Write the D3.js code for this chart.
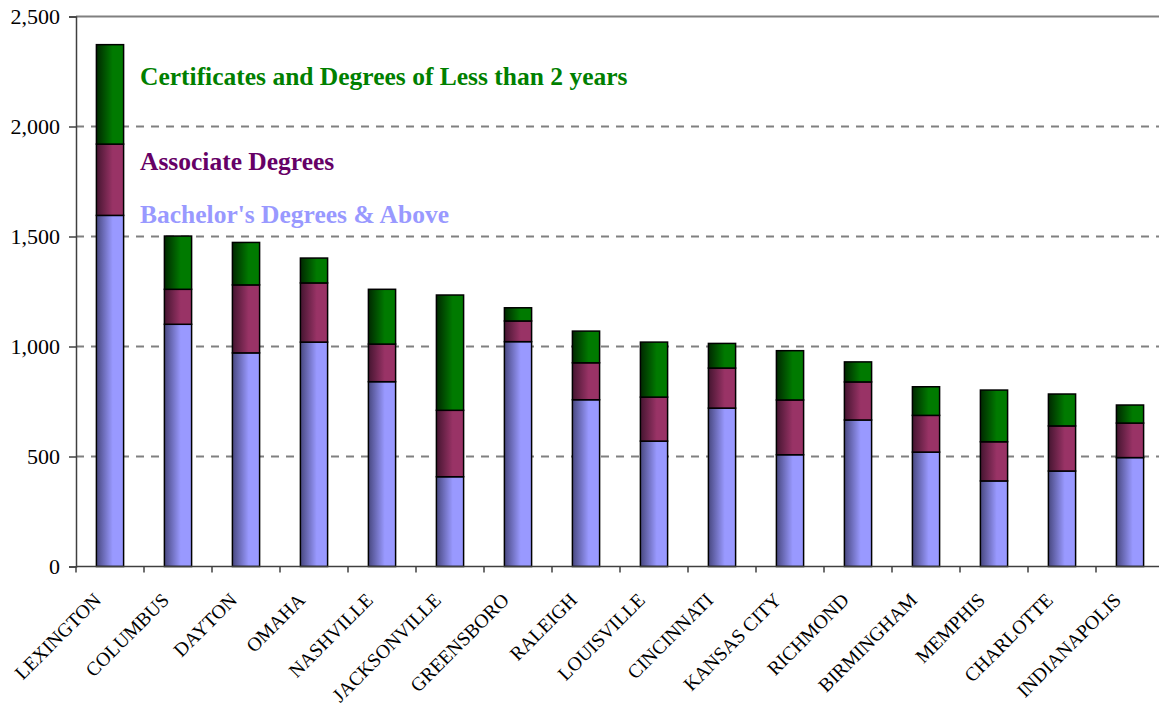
<!DOCTYPE html>
<html>
<head>
<meta charset="utf-8">
<script src="https://cdn.jsdelivr.net/npm/d3@7"></script>
<style>
  body { margin: 0; background: #fff; }
  svg text { font-family: "Liberation Serif", "Times New Roman", serif; }
</style>
</head>
<body>
<div class="chart"></div>
<script>
// city data
const cities = ["LEXINGTON", "COLUMBUS", "DAYTON", "OMAHA", "NASHVILLE", "JACKSONVILLE",
  "GREENSBORO", "RALEIGH", "LOUISVILLE", "CINCINNATI", "KANSAS CITY", "RICHMOND",
  "BIRMINGHAM", "MEMPHIS", "CHARLOTTE", "INDIANAPOLIS"];
const bachelors    = [1596, 1101, 971, 1020, 840, 408, 1022, 758, 570, 720, 508, 666, 520, 389, 434, 495];
const associates   = [324, 159, 309, 269, 171, 302, 94, 168, 200, 182, 249, 173, 167, 178, 205, 157];
const certificates = [452, 242, 193, 113, 249, 524, 60, 144, 250, 112, 224, 91, 130, 235, 145, 82];
const yTicks = [0, 500, 1000, 1500, 2000, 2500];

const seriesNames = ["Bachelor's Degrees & Above", "Associate Degrees", "Certificates and Degrees of Less than 2 years"];
const seriesKeys = ["bach", "assoc", "cert"];

const width = 1159, height = 707;
const margin = { top: 16.5, right: -5, bottom: 140.5, left: 76 };

const rows = cities.map(function(c, i) {
  return { city: c, bach: bachelors[i], assoc: associates[i], cert: certificates[i] };
});

const svg = d3.select(".chart").append("svg")
  .attr("width", width)
  .attr("height", height);

// gradients: dark on the left edge, full colour to the right
const fills = { bach: ["#484880", "#9999ff"], assoc: ["#451530", "#993366"], cert: ["#002800", "#007a00"] };
const defs = svg.append("defs");
seriesKeys.forEach(function(k) {
  const g = defs.append("linearGradient").attr("id", "grad-" + k)
    .attr("x1", "0%").attr("x2", "100%").attr("y1", "0%").attr("y2", "0%");
  g.append("stop").attr("offset", "0%").attr("stop-color", fills[k][0]);
  g.append("stop").attr("offset", "60%").attr("stop-color", fills[k][1]);
  g.append("stop").attr("offset", "100%").attr("stop-color", fills[k][1]);
});

const x = d3.scaleBand()
  .domain(cities)
  .range([margin.left, width - margin.right])
  .paddingInner(0.6)
  .paddingOuter(0.3);

// band edges for the tick marks
const step = (width - margin.right - margin.left) / cities.length;

const y = d3.scaleLinear()
  .domain([0, 2500])
  .range([height - margin.bottom, margin.top]);

// grid lines
svg.append("g")
  .selectAll("line")
  .data(yTicks.filter(function(d) { return d > 0; }))
  .enter()
  .append("line")
  .attr("x1", margin.left)
  .attr("x2", width)
  .attr("y1", function(d) { return y(d); })
  .attr("y2", function(d) { return y(d); })
  .attr("stroke", "#808080")
  .attr("stroke-width", 2)
  .attr("stroke-dasharray", function(d) { return d === 2500 ? null : "8,7"; });

// stacked bars
const stack = d3.stack().keys(seriesKeys);
const layers = stack(rows);

svg.append("g")
  .selectAll("g")
  .data(layers)
  .enter()
  .append("g")
  .attr("fill", function(d) { return "url(#grad-" + d.key + ")"; })
  .selectAll("rect")
  .data(function(d) { return d; })
  .enter()
  .append("rect")
  .attr("x", function(d) { return x(d.data.city); })
  .attr("y", function(d) { return y(d[1]); })
  .attr("width", x.bandwidth())
  .attr("height", function(d) { return y(d[0]) - y(d[1]); })
  .attr("stroke", "#000")
  .attr("stroke-width", 1.5);

// y axis
const yAxis = svg.append("g")
  .attr("transform", "translate(" + margin.left + ",0)")
  .call(d3.axisLeft(y).tickValues(yTicks).tickFormat(d3.format(",")).tickSize(7).tickPadding(9));
yAxis.selectAll("line").attr("stroke", "#404040").attr("stroke-width", 1.5);
yAxis.select(".domain").attr("stroke", "#404040").attr("stroke-width", 1.5);
yAxis.selectAll("text")
  .attr("font-size", "22px")
  .attr("font-family", "Liberation Serif, serif")
  .attr("fill", "#000");

// x axis line and ticks between categories
svg.append("line")
  .attr("x1", margin.left).attr("x2", width)
  .attr("y1", y(0)).attr("y2", y(0))
  .attr("stroke", "#404040").attr("stroke-width", 1.5);

svg.append("g")
  .selectAll("line")
  .data(d3.range(cities.length))
  .enter()
  .append("line")
  .attr("x1", function(i) { return margin.left + step * i; })
  .attr("x2", function(i) { return margin.left + step * i; })
  .attr("y1", y(0))
  .attr("y2", y(0) + 6)
  .attr("stroke", "#404040")
  .attr("stroke-width", 1.5);

// rotated category labels
svg.append("g")
  .selectAll("text")
  .data(cities)
  .enter()
  .append("text")
  .attr("transform", function(d) {
    const cx = x(d) + x.bandwidth() / 2;
    return "translate(" + (cx - 12.6) + "," + (y(0) + 30) + ") rotate(-45)";
  })
  .attr("text-anchor", "end")
  .attr("dy", "0.35em")
  .attr("font-size", "19.5px")
  .attr("fill", "#000")
  .text(function(d) { return d; });

// series labels inside the chart
const labels = [
  { text: seriesNames[2], color: "#008000", y: 85 },
  { text: seriesNames[1], color: "#660066", y: 170 },
  { text: seriesNames[0], color: "#9999ff", y: 223 }
];
svg.append("g")
  .selectAll("text")
  .data(labels)
  .enter()
  .append("text")
  .attr("x", 140)
  .attr("y", function(d) { return d.y; })
  .attr("font-size", "25.5px")
  .attr("font-weight", "bold")
  .attr("fill", function(d) { return d.color; })
  .text(function(d) { return d.text; });
</script>
</body>
</html>
